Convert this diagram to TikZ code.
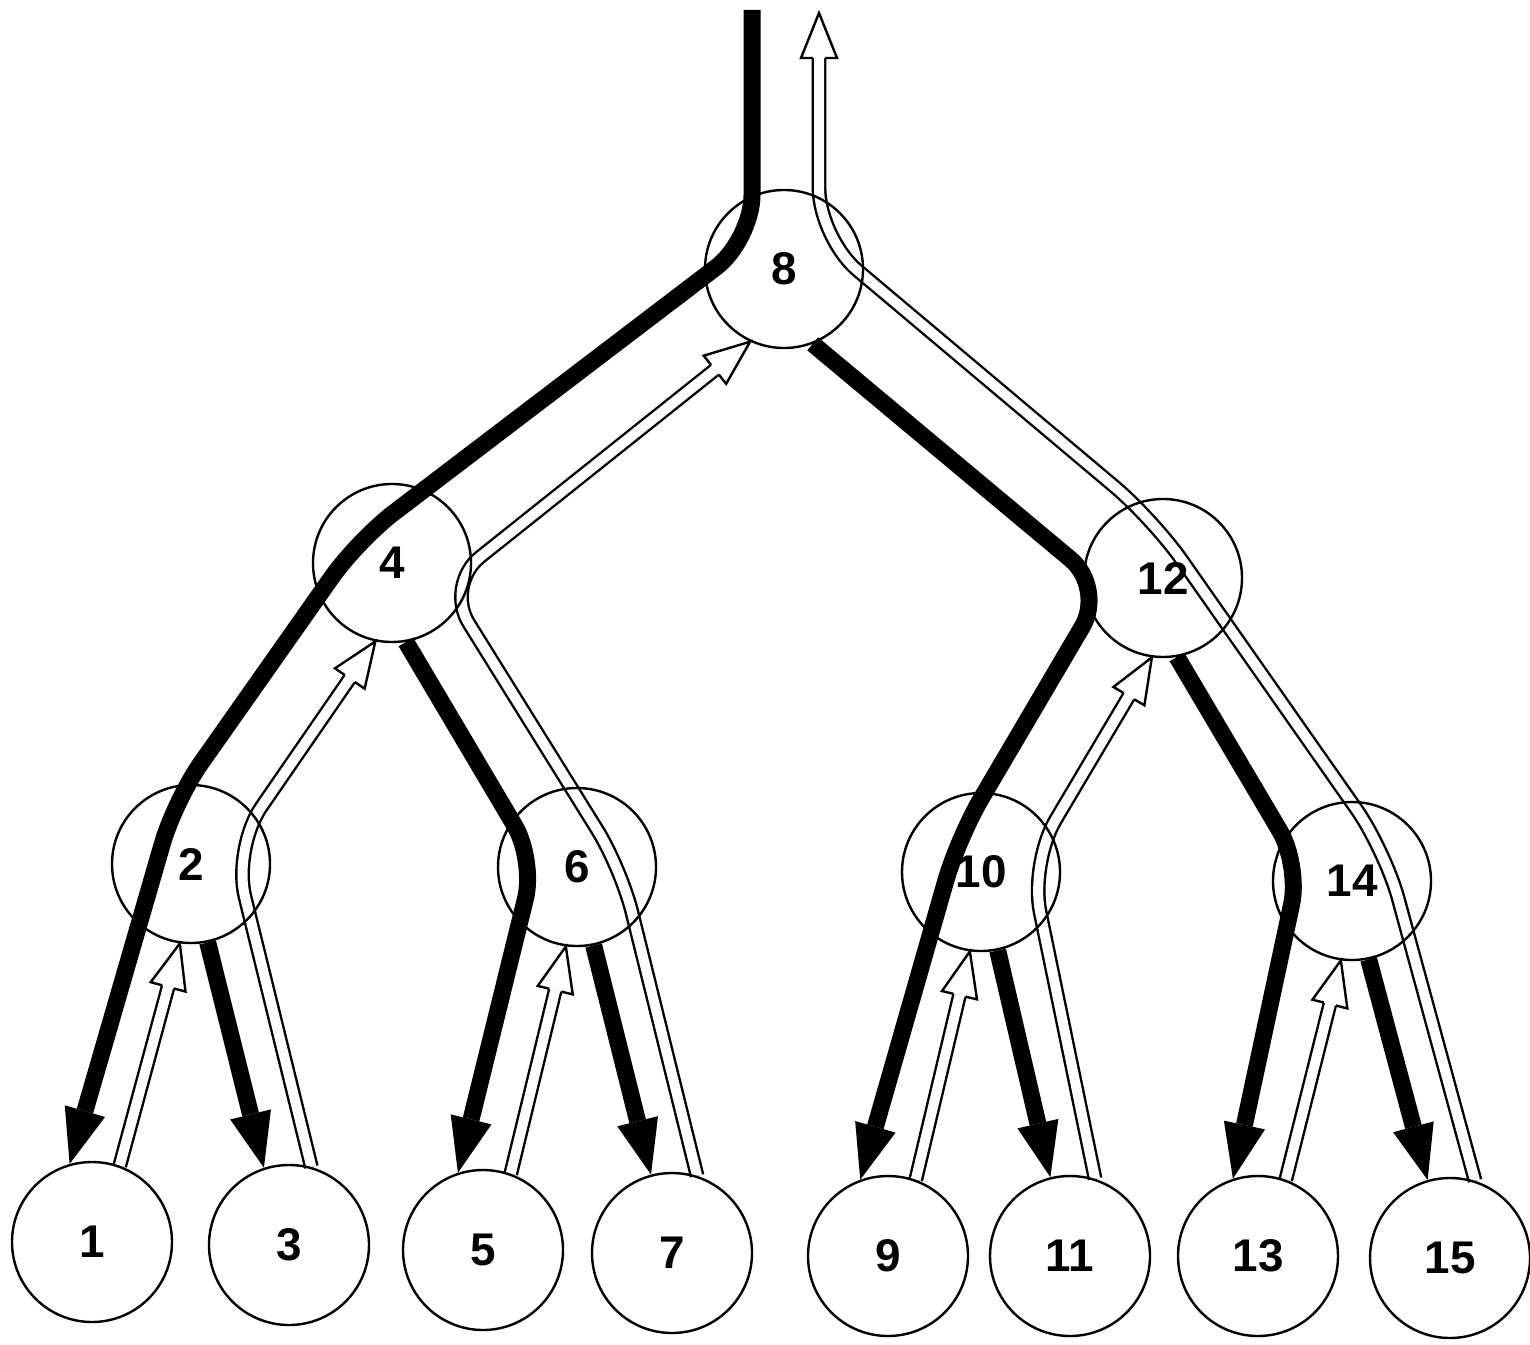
\documentclass[tikz,border=0pt]{standalone}
\usepackage{fontspec}
\setmainfont{Liberation Sans}
\usetikzlibrary{calc}
\pgfdeclarelayer{background}
\pgfsetlayers{background,main}

\tikzset{
  vertex/.style={circle, draw, line width=2.4bp, minimum size=158bp, inner sep=0pt,
    font=\fontsize{46}{46}\selectfont\bfseries},
  leaf/.style={vertex, minimum size=160bp},
  request/.style={line width=17bp, line join=round},
  reply/.style={draw, line width=2.4bp, double=white, double distance=10bp},
  headline/.style={line width=2.4bp, fill=white, draw, line join=miter},
}

% filled head: #1 = point behind, #2 = tip
\newcommand\solidhead[2]{%
  \path ($(#2)!55bp!(#1)$) coordinate (hb);
  \fill ($(hb)!21bp!90:(#2)$) -- (#2) -- ($(hb)!21bp!-90:(#2)$) -- cycle;}
% open head on a double line: #1 = point behind, #2 = tip
\newcommand\hollowhead[2]{%
  \path ($(#2)!45bp!(#1)$) coordinate (hb);
  \path[headline] ($(hb)!6.2bp!90:(#2)$) -- ($(hb)!18bp!90:(#2)$) -- (#2)
    -- ($(hb)!18bp!-90:(#2)$) -- ($(hb)!6.2bp!-90:(#2)$);}

\begin{document}
\begin{tikzpicture}[x=1bp, y=-1bp]
\useasboundingbox (0,0) rectangle (1530,1345);

% inner nodes
\node[vertex] (n8)  at (784,269)  {8};
\node[vertex] (n4)  at (392,563)  {4};
\node[vertex] (n12) at (1163,578) {12};
\node[vertex] (n2)  at (191,864)  {2};
\node[vertex] (n6)  at (577,867)  {6};
\node[vertex] (n10) at (981,872)  {10};
\node[vertex] (n14) at (1352,881) {14};
% leaves
\node[leaf] (n1)  at (92,1242)   {1};
\node[leaf] (n3)  at (289,1245)  {3};
\node[leaf] (n5)  at (483,1250)  {5};
\node[leaf] (n7)  at (672,1253)  {7};
\node[leaf] (n9)  at (888,1256)  {9};
\node[leaf] (n11) at (1070,1256) {11};
\node[leaf] (n13) at (1258,1256) {13};
\node[leaf] (n15) at (1450,1258) {15};

% bends of the downward (black) routes
\coordinate (top) at (752,10);
\coordinate (a1) at (752,240);
\coordinate (a2) at (358,540);
\coordinate (a3) at (175,800);
\coordinate (b1) at (1105,588);
\coordinate (b2) at (958,838);
\coordinate (c1) at (535,860);
\coordinate (g1) at (1300,865);
% bends of the upward (outlined) routes
\coordinate (r5)  at (233,848);
\coordinate (r6a) at (621,868);
\coordinate (r6b) at (445,585);
\coordinate (r7)  at (1030,863);
\coordinate (r8a) at (1385,850);
\coordinate (r8b) at (1153,519);
\coordinate (r8c) at (819,238);
\coordinate (outtip) at (819,13);

\begin{pgfonlayer}{background}
  % downward routes
  \draw[request, rounded corners=45bp] (top) -- (a1) -- (a2) -- (a3) -- ($(n1.106)!55bp!(a3)$);
  \draw[request, rounded corners=45bp] (n8.-69) -- (b1) -- (b2) -- ($(n9.110)!55bp!(b2)$);
  \draw[request, rounded corners=40bp] (n4.-80) -- (c1) -- ($(n5.108)!55bp!(c1)$);
  \draw[request] (n2.-78) -- ($(n3.108)!55bp!(n2.-78)$);
  \draw[request] (n6.-78) -- ($(n7.105)!55bp!(n6.-78)$);
  \draw[request] (n10.-78) -- ($(n11.104)!55bp!(n10.-78)$);
  \draw[request, rounded corners=40bp] (n12.-80) -- (g1) -- ($(n13.108)!55bp!(g1)$);
  \draw[request] (n14.-78) -- ($(n15.106)!55bp!(n14.-78)$);
  % upward routes
  \draw[reply] (n1.70) -- ($(n2.-98)!45bp!(n1.70)$);
  \draw[reply] (n5.70) -- ($(n6.-98)!45bp!(n5.70)$);
  \draw[reply] (n9.70) -- ($(n10.-98)!45bp!(n9.70)$);
  \draw[reply] (n13.70) -- ($(n14.-98)!45bp!(n13.70)$);
  \draw[reply, rounded corners=50bp] (n3.74) -- (r5) -- ($(n4.-102)!45bp!(r5)$);
  \draw[reply, rounded corners=45bp] (n7.72) -- (r6a) -- (r6b) -- ($(n8.-115)!45bp!(r6b)$);
  \draw[reply, rounded corners=50bp] (n11.72) -- (r7) -- ($(n12.-98)!45bp!(r7)$);
  \draw[reply, rounded corners=50bp] (n15.72) -- (r8a) -- (r8b) -- (r8c) -- ($(outtip)!45bp!(r8c)$);
\end{pgfonlayer}

% arrow heads
\solidhead{a3}{n1.106}
\solidhead{b2}{n9.110}
\solidhead{c1}{n5.108}
\solidhead{n2.-78}{n3.108}
\solidhead{n6.-78}{n7.105}
\solidhead{n10.-78}{n11.104}
\solidhead{g1}{n13.108}
\solidhead{n14.-78}{n15.106}
\hollowhead{n1.70}{n2.-98}
\hollowhead{n5.70}{n6.-98}
\hollowhead{n9.70}{n10.-98}
\hollowhead{n13.70}{n14.-98}
\hollowhead{r5}{n4.-102}
\hollowhead{r6b}{n8.-115}
\hollowhead{r7}{n12.-98}
\hollowhead{r8c}{outtip}
\end{tikzpicture}
\end{document}
